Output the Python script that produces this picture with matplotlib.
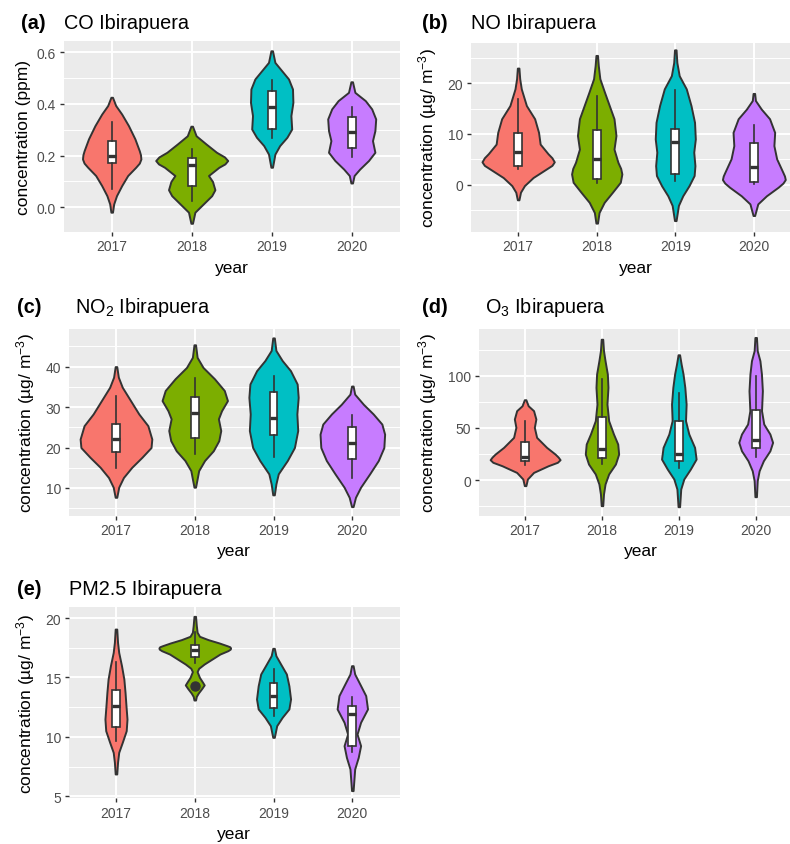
import matplotlib
matplotlib.use('Agg')
import matplotlib.pyplot as plt
import numpy as np

plt.rcParams['font.family'] = ['Liberation Sans', 'DejaVu Sans']
plt.rcParams['mathtext.fontset'] = 'custom'
plt.rcParams['mathtext.rm'] = 'Liberation Sans'
plt.rcParams['mathtext.it'] = 'Liberation Sans:italic'
plt.rcParams['mathtext.bf'] = 'Liberation Sans:bold'

# ---------------- data ----------------
years = ['2017', '2018', '2019', '2020']
fills = ['#F8766D', '#7CAE00', '#00BFC4', '#C77CFF']

# (a) CO  -- violin profiles: y values and half-widths (x units)
co_prof_y = [
    [0.426, 0.394, 0.361, 0.316, 0.265, 0.219, 0.203, 0.187, 0.171, 0.155, 0.123, 0.084, 0.045, 0.013, -0.019],
    [0.314, 0.277, 0.245, 0.213, 0.195, 0.181, 0.168, 0.155, 0.123, 0.100, 0.068, 0.045, 0.013, -0.019, -0.062],
    [0.606, 0.561, 0.529, 0.497, 0.458, 0.406, 0.355, 0.303, 0.271, 0.239, 0.206, 0.155],
    [0.486, 0.445, 0.413, 0.381, 0.342, 0.297, 0.258, 0.213, 0.181, 0.148, 0.123, 0.094],
]
co_prof_w = [
    [0.01, 0.05, 0.125, 0.21, 0.29, 0.345, 0.36, 0.365, 0.345, 0.30, 0.20, 0.125, 0.06, 0.025, 0.01],
    [0.01, 0.055, 0.18, 0.31, 0.41, 0.45, 0.415, 0.34, 0.21, 0.26, 0.29, 0.25, 0.145, 0.04, 0.01],
    [0.01, 0.04, 0.125, 0.21, 0.26, 0.265, 0.24, 0.25, 0.19, 0.10, 0.04, 0.01],
    [0.01, 0.04, 0.17, 0.25, 0.30, 0.29, 0.26, 0.29, 0.21, 0.10, 0.03, 0.01],
]
co_med = [0.198, 0.164, 0.390, 0.290]
co_q1 = [0.172, 0.081, 0.303, 0.228]
co_q3 = [0.258, 0.191, 0.449, 0.348]
co_lo = [0.071, 0.023, 0.268, 0.194]
co_hi = [0.330, 0.226, 0.493, 0.387]
co_out = [[], [], [], []]

# (b) NO
no_prof_y = [
    [23.0, 20.9, 18.9, 15.6, 13.0, 10.3, 8.0, 6.1, 5.3, 4.5, 3.8, 3.1, 1.4, -0.2, -1.5, -3.0],
    [25.5, 23.5, 20.9, 18.2, 15.6, 13.0, 9.7, 7.0, 4.4, 3.2, 2.1, 0.46, -1.5, -3.5, -5.5, -7.6],
    [26.6, 24.1, 21.5, 18.9, 15.6, 12.3, 9.0, 6.4, 3.75, 1.8, -0.2, -2.2, -4.1, -7.1],
    [18.0, 16.6, 14.9, 13.0, 10.3, 7.7, 5.1, 2.4, 1.7, 1.0, 0.3, -0.5, -2.2, -3.8, -6.1],
]
no_prof_w = [
    [0.01, 0.02, 0.04, 0.105, 0.21, 0.26, 0.28, 0.38, 0.43, 0.46, 0.43, 0.36, 0.19, 0.08, 0.03, 0.01],
    [0.01, 0.02, 0.04, 0.10, 0.16, 0.22, 0.245, 0.22, 0.27, 0.305, 0.32, 0.30, 0.20, 0.095, 0.03, 0.01],
    [0.01, 0.02, 0.05, 0.14, 0.20, 0.245, 0.255, 0.235, 0.25, 0.24, 0.175, 0.095, 0.04, 0.01],
    [0.01, 0.02, 0.095, 0.20, 0.265, 0.255, 0.29, 0.37, 0.39, 0.40, 0.37, 0.31, 0.16, 0.05, 0.01],
]
no_med = [6.4, 5.0, 8.5, 3.55]
no_q1 = [3.75, 1.1, 2.0, 0.46]
no_q3 = [10.1, 10.7, 11.0, 8.2]
no_lo = [3.1, 0.33, 0.8, 0.13]
no_hi = [16.9, 17.4, 18.7, 11.8]
no_out = [[], [], [], []]

# (c) NO2
no2_prof_y = [
    [40.0, 37.4, 34.9, 31.6, 28.3, 25.4, 22.1, 20.0, 17.6, 15.1, 12.6, 10.2, 7.7],
    [45.4, 42.3, 39.8, 37.0, 34.1, 31.6, 29.1, 27.1, 24.2, 21.7, 19.2, 16.8, 14.3, 10.2],
    [47.1, 44.0, 41.5, 39.0, 35.7, 32.4, 28.3, 24.2, 20.0, 16.8, 13.5, 11.0, 8.3],
    [35.2, 33.2, 30.7, 28.3, 25.8, 23.3, 20.0, 16.8, 13.5, 10.2, 7.7, 5.4],
]
no2_prof_w = [
    [0.01, 0.03, 0.08, 0.185, 0.29, 0.405, 0.455, 0.445, 0.33, 0.20, 0.095, 0.035, 0.01],
    [0.01, 0.03, 0.105, 0.25, 0.375, 0.415, 0.34, 0.30, 0.33, 0.305, 0.235, 0.125, 0.05, 0.01],
    [0.01, 0.03, 0.11, 0.215, 0.30, 0.313, 0.296, 0.307, 0.265, 0.175, 0.06, 0.03, 0.01],
    [0.01, 0.03, 0.14, 0.265, 0.375, 0.41, 0.40, 0.33, 0.22, 0.105, 0.04, 0.01],
]
no2_med = [22.1, 28.5, 27.3, 21.0]
no2_q1 = [18.9, 22.4, 23.0, 17.1]
no2_q3 = [25.7, 32.4, 33.7, 25.0]
no2_lo = [14.9, 18.4, 17.7, 12.5]
no2_hi = [32.8, 37.2, 37.6, 28.0]
no2_out = [[], [], [], []]

# (d) O3
o3_prof_y = [
    [77.0, 71.2, 66.5, 58.5, 50.5, 40.9, 31.3, 24.9, 22.0, 19.5, 17.0, 13.7, 7.3, 1.0, -5.4],
    [135.0, 124.0, 114.4, 101.6, 88.8, 72.8, 56.9, 44.1, 34.5, 24.9, 15.3, 5.8, -3.8, -13.4, -24.6],
    [120.1, 111.2, 101.6, 88.8, 72.8, 56.9, 44.1, 31.3, 20.1, 10.5, 1.0, -8.6, -25.6],
    [136.7, 124.0, 114.4, 101.6, 85.6, 66.5, 53.7, 44.1, 36.1, 28.1, 18.5, 8.9, -0.6, -16.0],
]
o3_prof_w = [
    [0.01, 0.04, 0.11, 0.14, 0.12, 0.15, 0.28, 0.39, 0.43, 0.455, 0.42, 0.30, 0.11, 0.03, 0.01],
    [0.01, 0.02, 0.04, 0.07, 0.078, 0.065, 0.087, 0.15, 0.205, 0.217, 0.175, 0.087, 0.04, 0.02, 0.01],
    [0.01, 0.03, 0.055, 0.078, 0.095, 0.087, 0.13, 0.205, 0.225, 0.15, 0.065, 0.025, 0.01],
    [0.01, 0.02, 0.055, 0.075, 0.087, 0.076, 0.105, 0.185, 0.22, 0.185, 0.10, 0.045, 0.02, 0.01],
]
o3_med = [22.0, 29.7, 24.9, 38.7]
o3_q1 = [18.0, 21.1, 18.5, 30.4]
o3_q3 = [36.1, 60.1, 56.2, 67.4]
o3_lo = [14.7, 15.3, 11.5, 21.7]
o3_hi = [56.9, 96.8, 83.4, 100.0]
o3_out = [[], [], [], []]

# (e) PM2.5
pm_prof_y = [
    [19.07, 17.95, 17.1, 16.0, 14.87, 13.75, 12.63, 11.5, 10.52, 9.54, 8.7, 7.86, 6.88],
    [20.14, 19.36, 18.8, 18.46, 18.18, 17.9, 17.67, 17.58, 17.48, 17.38, 17.25, 16.97, 16.55,
     16.13, 15.77, 15.49, 15.0, 14.59, 14.37, 14.08, 13.69, 13.41, 13.1],
    [17.45, 16.83, 16.13, 15.29, 14.3, 13.19, 12.35, 11.65, 10.94, 9.96],
    [15.99, 15.29, 14.45, 13.47, 12.35, 11.23, 10.24, 9.26, 8.28, 7.3, 5.48],
]
pm_prof_w = [
    [0.01, 0.02, 0.035, 0.07, 0.10, 0.115, 0.127, 0.14, 0.13, 0.08, 0.035, 0.02, 0.01],
    [0.01, 0.02, 0.03, 0.06, 0.17, 0.31, 0.41, 0.445, 0.455, 0.45, 0.42, 0.32, 0.22,
     0.12, 0.05, 0.03, 0.06, 0.10, 0.12, 0.09, 0.045, 0.02, 0.01],
    [0.01, 0.03, 0.09, 0.163, 0.195, 0.216, 0.195, 0.11, 0.04, 0.01],
    [0.01, 0.03, 0.095, 0.17, 0.193, 0.105, 0.06, 0.105, 0.075, 0.03, 0.01],
]
pm_med = [12.57, 17.34, 13.47, 11.93]
pm_q1 = [10.8, 16.69, 12.43, 9.26]
pm_q3 = [13.97, 17.76, 14.53, 12.57]
pm_lo = [9.68, 16.2, 11.79, 8.7]
pm_hi = [16.27, 18.8, 15.71, 13.33]
pm_out = [[], [14.3], [], []]

# ---------------- figure ----------------
W, H = 790, 845
fig = plt.figure(figsize=(W / 100, H / 100), dpi=100)

DARK = '#333333'
ylab_ugm = 'concentration (µg/ m$^{-3}$)'


def make_ax(l, r, t, b):
    return fig.add_axes([l / W, 1 - b / H, (r - l) / W, (b - t) / H])


def draw_panel(ax, box_px, prof_y, prof_w, med, q1, q3, lo, hi, out,
               ylim, yticks, yticklabels, yminor, ylabel, ylab_px, xlab_px):
    l, r, t, b = box_px
    pos = np.arange(1, len(years) + 1)
    ax.set_facecolor('#EBEBEB')
    for s in ax.spines.values():
        s.set_visible(False)
    # grid
    for v in yminor:
        ax.axhline(v, color='white', lw=0.7, zorder=0.5)
    for v in yticks:
        ax.axhline(v, color='white', lw=1.4, zorder=0.6)
    for p in pos:
        ax.axvline(p, color='white', lw=1.4, zorder=0.6)

    vp = []
    for yy, ww, m in zip(prof_y, prof_w, med):
        vp.append(dict(coords=np.array(yy), vals=np.array(ww), mean=m,
                       median=m, min=min(yy), max=max(yy)))
    widths = [2 * max(w) for w in prof_w]
    parts = ax.violin(vp, positions=pos, widths=widths, showextrema=False)
    for body, c in zip(parts['bodies'], fills):
        body.set_facecolor(c)
        body.set_edgecolor(DARK)
        body.set_linewidth(1.4)
        body.set_joinstyle('round')
        body.set_alpha(1)
        body.set_zorder(2)

    bx = []
    for m, a, c, w1, w2, f in zip(med, q1, q3, lo, hi, out):
        bx.append(dict(med=m, q1=a, q3=c, whislo=w1, whishi=w2, fliers=f))
    ax.bxp(bx, positions=pos, widths=0.1, patch_artist=True, showcaps=False,
           boxprops=dict(facecolor='white', edgecolor=DARK, linewidth=1.2),
           medianprops=dict(color=DARK, linewidth=2.4, solid_capstyle='butt'),
           whiskerprops=dict(color=DARK, linewidth=1.2),
           flierprops=dict(marker='o', markerfacecolor=DARK, markeredgecolor=DARK,
                           markersize=6.5),
           manage_ticks=False, zorder=3)

    ax.set_xlim(0.4, 4.6)
    ax.set_ylim(*ylim)
    ax.set_xticks(pos)
    ax.set_xticklabels(years)
    ax.set_yticks(yticks)
    ax.set_yticklabels(yticklabels)
    ax.tick_params(axis='both', length=3, width=1.0, color=DARK,
                   labelcolor='#4D4D4D', labelsize=10, pad=2.5)
    ax.set_xlabel('year', fontsize=12.5, color='black')
    ax.set_ylabel(ylabel, fontsize=12.5, color='black')
    ax.yaxis.set_label_coords((ylab_px - l) / (r - l), 0.5)
    ax.xaxis.label.set_va('baseline')
    ax.xaxis.set_label_coords(0.5, -(xlab_px - b) / (b - t))


def titles(tag, tag_x, title, title_x, base_y):
    fig.text(tag_x / W, 1 - base_y / H, tag, fontsize=14.3, fontweight='bold',
             va='baseline', ha='left')
    fig.text(title_x / W, 1 - base_y / H, title, fontsize=14.3,
             va='baseline', ha='left')


# panel (a)
box_a = (63.7, 399.7, 41.7, 232.7)
ax = make_ax(*box_a)
draw_panel(ax, box_a, co_prof_y, co_prof_w, co_med, co_q1, co_q3, co_lo, co_hi, co_out,
           (-0.0945, 0.645), [0.0, 0.2, 0.4, 0.6], ['0.0', '0.2', '0.4', '0.6'],
           [-0.1, 0.1, 0.3, 0.5], 'concentration (ppm)', 31, 273)
titles('(a)', 21, 'CO Ibirapuera', 63.7, 29.3)

# panel (b)
box_b = (471, 801, 44, 232.7)
ax = make_ax(*box_b)
draw_panel(ax, box_b, no_prof_y, no_prof_w, no_med, no_q1, no_q3, no_lo, no_hi, no_out,
           (-9.29, 27.95), [0, 10, 20], ['0', '10', '20'],
           [-5, 5, 15, 25], ylab_ugm, 439, 273)
titles('(b)', 422, 'NO Ibirapuera', 471, 29.3)

# panel (c)
box_c = (68.7, 399.6, 330, 516.7)
ax = make_ax(*box_c)
draw_panel(ax, box_c, no2_prof_y, no2_prof_w, no2_med, no2_q1, no2_q3, no2_lo, no2_hi, no2_out,
           (3.15, 49.3), [10, 20, 30, 40], ['10', '20', '30', '40'],
           [5, 15, 25, 35, 45], ylab_ugm, 36.7, 556)
titles('(c)', 17.3, 'NO$_2$ Ibirapuera', 75, 313)

# panel (d)
box_d = (479, 801.8, 330, 516.7)
ax = make_ax(*box_d)
draw_panel(ax, box_d, o3_prof_y, o3_prof_w, o3_med, o3_q1, o3_q3, o3_lo, o3_hi, o3_out,
           (-34.2, 144.8), [0, 50, 100], ['0', '50', '100'],
           [-25, 25, 75, 125], ylab_ugm, 439, 556)
titles('(d)', 421.7, 'O$_3$ Ibirapuera', 485, 313)

# panel (e)
box_e = (68.7, 399.6, 608.3, 799)
ax = make_ax(*box_e)
draw_panel(ax, box_e, pm_prof_y, pm_prof_w, pm_med, pm_q1, pm_q3, pm_lo, pm_hi, pm_out,
           (4.86, 20.9), [5, 10, 15, 20], ['5', '10', '15', '20'],
           [7.5, 12.5, 17.5], ylab_ugm, 36.7, 839)
titles('(e)', 17.3, 'PM2.5 Ibirapuera', 69, 595)

fig.savefig('out.png', dpi=100, facecolor='white')
